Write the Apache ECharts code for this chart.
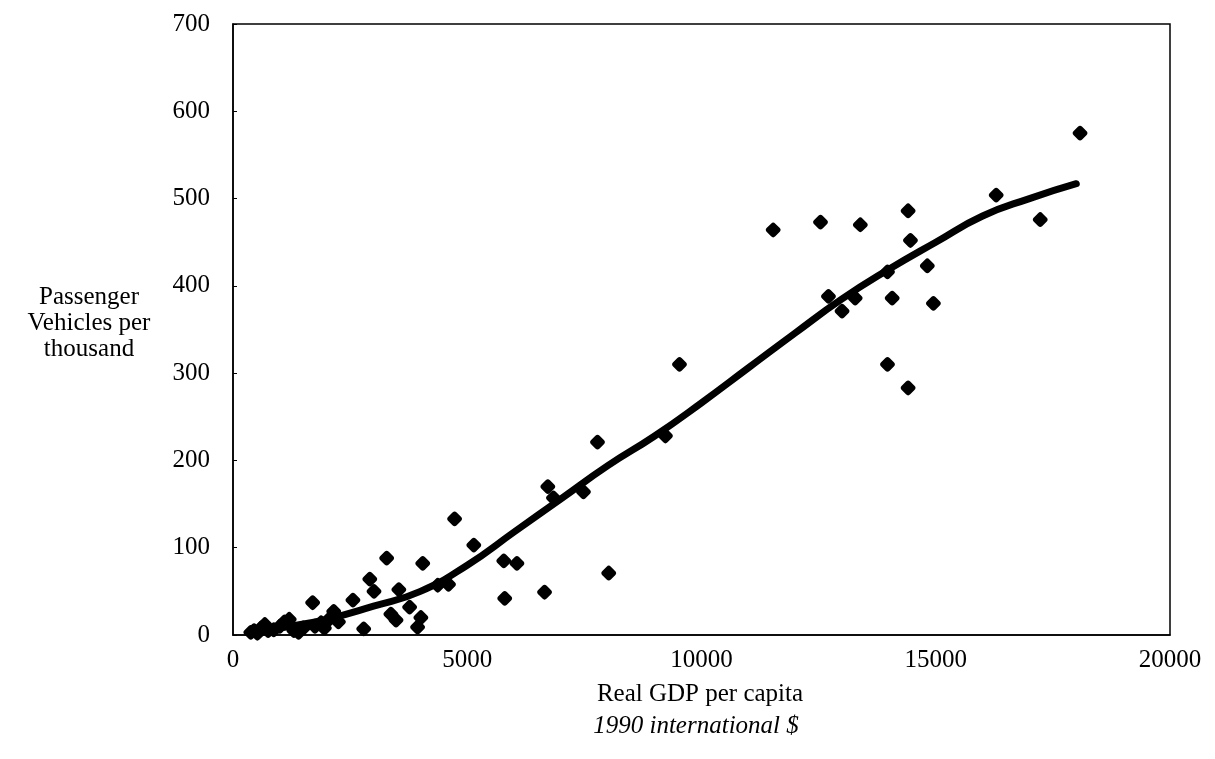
<!DOCTYPE html>
<html>
<head>
<meta charset="utf-8">
<script src="https://cdn.jsdelivr.net/npm/echarts@6/dist/echarts.min.js"></script>
<style>html,body{margin:0;padding:0;background:#fff;}#c{width:1215px;height:759px;}</style>
</head>
<body>
<div id="c"></div>
<script>
// Scatter points: [GDP per capita, vehicles per thousand]
const countries = [
  [380,3],[450,5],[520,2],[600,8],[680,12],[750,5],[870,6],[1000,10],[1100,15],[1200,18],
  [1300,5],[1400,3],[1500,8],[1700,37],[1750,10],[1880,14],[1950,8],[2050,18],[2150,27],[2250,15],
  [2560,40],[2790,7],[2920,64],[3010,50],[3280,88],[3370,24],[3480,17],[3540,52],[3770,32],[3940,9],
  [4010,20],[4050,82],[4370,57],[4600,58],[4730,133],[5140,103],[5780,85],[5800,42],[6060,82],[6650,49],
  [6720,170],[6840,157],[7480,164],[7780,221],[8020,71],[9230,228],[9530,310],[11530,464],[12540,473],[12710,388],
  [13000,371],[13280,386],[13390,470],[13970,416],[13970,310],[14070,386],[14410,486],[14460,452],[14410,283],[14820,423],
  [14950,380],[16290,504],[17230,476],[18080,575]
];
// Fitted curve
const fitted = [
  [400,2],[1000,8],[2000,18],[3000,33],[4000,50],[5000,80],[6000,118],[7000,156],[8000,194],[9000,228],
  [10000,266],[11000,306],[12000,346],[13000,385],[14000,419],[15000,450],[16000,480],[17000,500],[18000,517]
];
const xTicks = [0,5000,10000,15000,20000];
const yTicks = [0,100,200,300,400,500,600,700];
const yName = ['Passenger','Vehicles per','thousand'];
const xName = 'Real GDP per capita';
const xSub = '1990 international $';

const FONT = '"Liberation Serif", "DejaVu Serif", serif';
const chart = echarts.init(document.getElementById('c'));
chart.setOption({
  backgroundColor: '#fff',
  animation: false,
  grid: {left: 233, top: 24, right: 45, bottom: 124, show: true, borderColor: '#000', borderWidth: 1.5},
  xAxis: {
    type: 'value', min: 0, max: 20000, interval: 5000,
    axisLine: {lineStyle: {color: '#000', width: 1.5}},
    axisTick: {show: false},
    splitLine: {show: false},
    axisLabel: {color: '#000', fontFamily: FONT, fontSize: 25, margin: 13,
      formatter: v => xTicks.includes(v) ? String(v) : ''}
  },
  yAxis: {
    type: 'value', min: 0, max: 700, interval: 100,
    axisLine: {show: true, lineStyle: {color: '#000', width: 1.5}},
    axisTick: {show: true, inside: true, length: 4, lineStyle: {color: '#000'}},
    splitLine: {show: false},
    axisLabel: {color: '#000', fontFamily: FONT, fontSize: 25, margin: 23,
      formatter: v => yTicks.includes(v) ? String(v) : ''}
  },
  graphic: [
    {type: 'text', x: 89, y: 297, style: {text: yName[0], fill: '#000', font: '25px ' + FONT, textAlign: 'center', textVerticalAlign: 'middle'}},
    {type: 'text', x: 89, y: 323, style: {text: yName[1], fill: '#000', font: '25px ' + FONT, textAlign: 'center', textVerticalAlign: 'middle'}},
    {type: 'text', x: 89, y: 349, style: {text: yName[2], fill: '#000', font: '25px ' + FONT, textAlign: 'center', textVerticalAlign: 'middle'}},
    {type: 'text', x: 700, y: 694, style: {text: xName, fill: '#000', font: '25px ' + FONT, textAlign: 'center', textVerticalAlign: 'middle'}},
    {type: 'text', x: 696, y: 726, style: {text: xSub, fill: '#000', font: 'italic 25px ' + FONT, textAlign: 'center', textVerticalAlign: 'middle'}}
  ],
  series: [
    {
      type: 'scatter', data: countries,
      symbol: 'roundRect', symbolSize: 12, symbolRotate: 45,
      itemStyle: {color: '#000', opacity: 1}
    },
    {
      type: 'line', data: fitted, smooth: true, showSymbol: false,
      lineStyle: {color: '#000', width: 7, cap: 'round'}
    }
  ]
});
</script>
</body>
</html>
